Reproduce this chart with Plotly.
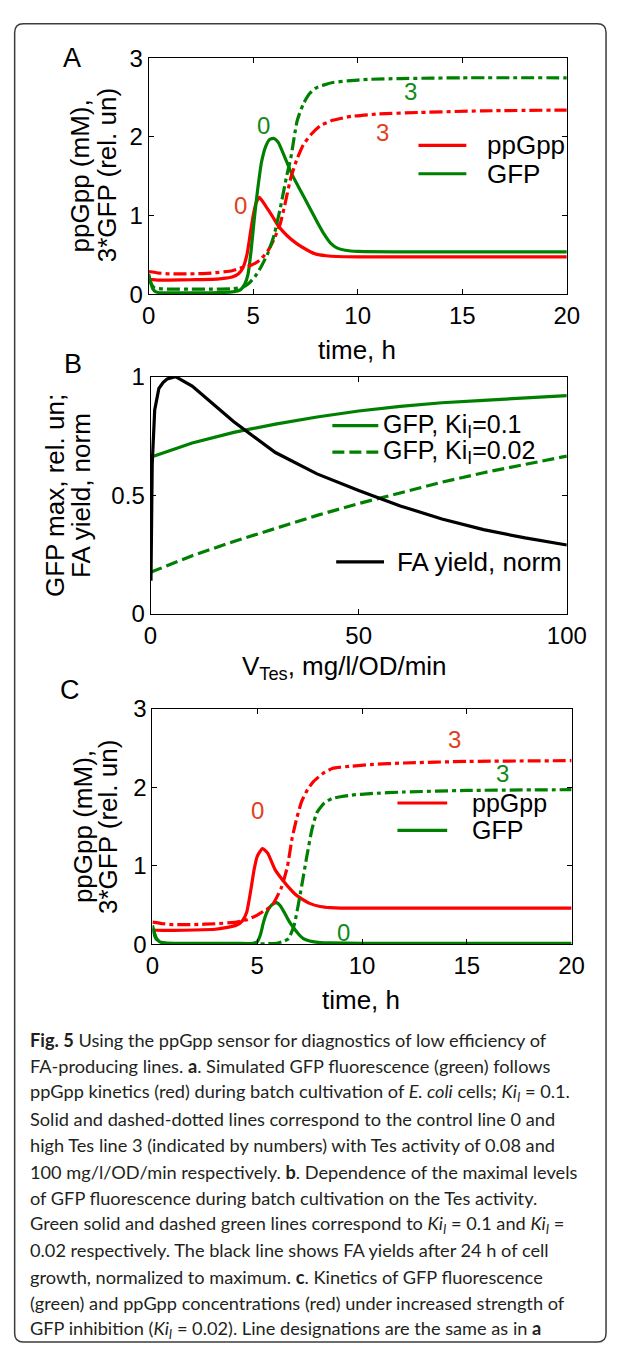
import plotly.graph_objects as go

W, H = 627, 1358

# ---------------- DATA ----------------
# Panel A (Ki_I = 0.1): time (h) vs ppGpp (mM) / 3*GFP (rel. un)
a_red0_t = [0, 0.5, 1, 2, 3, 3.5, 4, 4.3, 4.5, 4.7, 4.85, 5.0, 5.15, 5.3, 5.6, 5.9, 6.2, 6.6, 7.1, 7.6, 8.0, 8.5, 9, 10, 12, 15, 20]
a_red0_v = [0.19, 0.18, 0.18, 0.185, 0.19, 0.2, 0.22, 0.26, 0.33, 0.5, 0.75, 1.0, 1.17, 1.23, 1.12, 1.0, 0.87, 0.75, 0.64, 0.56, 0.51, 0.49, 0.48, 0.475, 0.475, 0.475, 0.475]

a_grn0_t = [0, 0.1, 0.2, 0.35, 0.5, 1, 2, 3, 4, 4.4, 4.6, 4.75, 4.9, 5.05, 5.2, 5.4, 5.6, 5.8, 6.0, 6.2, 6.5, 6.86, 7.3, 7.7, 8.1, 8.4, 8.7, 9.0, 9.4, 10, 12, 15, 20]
a_grn0_v = [0.26, 0.15, 0.07, 0.03, 0.02, 0.02, 0.02, 0.02, 0.03, 0.06, 0.13, 0.25, 0.55, 0.95, 1.3, 1.68, 1.88, 1.97, 1.98, 1.93, 1.75, 1.52, 1.3, 1.1, 0.9, 0.76, 0.65, 0.59, 0.56, 0.545, 0.54, 0.54, 0.54]

a_red3_t = [0, 0.5, 1, 2, 3, 4, 4.35, 4.9, 5.3, 5.7, 6.0, 6.3, 6.55, 6.8, 7.1, 7.4, 7.8, 8.2, 8.8, 9.7, 11, 13, 16, 20]
a_red3_v = [0.29, 0.27, 0.26, 0.26, 0.27, 0.3, 0.33, 0.37, 0.43, 0.55, 0.7, 0.9, 1.18, 1.48, 1.72, 1.9, 2.04, 2.14, 2.21, 2.26, 2.29, 2.31, 2.33, 2.34]

a_grn3_t = [0, 0.15, 0.3, 0.6, 1, 2, 3, 4, 4.5, 4.8, 5.1, 5.4, 5.7, 6.0, 6.3, 6.6, 6.8, 7.1, 7.4, 7.7, 8.0, 8.4, 8.8, 9.5, 10.5, 12, 15, 20]
a_grn3_v = [0.22, 0.12, 0.08, 0.07, 0.065, 0.065, 0.065, 0.07, 0.09, 0.14, 0.23, 0.36, 0.52, 0.75, 1.1, 1.5, 1.73, 2.2, 2.42, 2.55, 2.62, 2.66, 2.69, 2.71, 2.73, 2.74, 2.75, 2.75]

# Panel B: V_Tes (mg/l/OD/min) vs GFP max / FA yield
b_gfp_x = [0, 10, 20, 30, 40, 50, 60, 70, 80, 90, 100]
b_gfp01_v = [0.66, 0.72, 0.765, 0.80, 0.83, 0.855, 0.875, 0.89, 0.90, 0.91, 0.92]
b_gfp002_v = [0.175, 0.245, 0.305, 0.36, 0.415, 0.465, 0.51, 0.555, 0.595, 0.63, 0.665]
b_fa_x = [0.1, 0.4, 1, 2, 3, 4, 6, 10, 20, 30, 40, 50, 60, 70, 80, 90, 100]
b_fa_v = [0.14, 0.63, 0.86, 0.95, 0.975, 0.99, 1.0, 0.96, 0.81, 0.68, 0.59, 0.52, 0.455, 0.4, 0.355, 0.32, 0.29]

# Panel C (Ki_I = 0.02)
c_red0_t = [0, 0.5, 1, 2, 3, 3.5, 4, 4.3, 4.5, 4.7, 4.85, 5.0, 5.25, 5.5, 5.85, 6.2, 6.45, 6.8, 7.05, 7.5, 8.0, 8.5, 9, 10, 15, 20]
c_red0_v = [0.18, 0.175, 0.175, 0.18, 0.19, 0.21, 0.24, 0.3, 0.41, 0.7, 0.95, 1.12, 1.22, 1.16, 0.95, 0.82, 0.74, 0.64, 0.59, 0.52, 0.48, 0.465, 0.46, 0.46, 0.46, 0.46]

c_grn0_t = [0, 0.1, 0.2, 0.35, 0.5, 1, 2, 3, 4, 4.8, 5.0, 5.15, 5.3, 5.45, 5.62, 5.8, 5.92, 6.1, 6.3, 6.5, 6.76, 7.0, 7.2, 7.5, 8.0, 8.5, 10, 15, 20]
c_grn0_v = [0.24, 0.14, 0.07, 0.03, 0.02, 0.01, 0.01, 0.01, 0.01, 0.01, 0.03, 0.12, 0.28, 0.4, 0.48, 0.52, 0.53, 0.49, 0.4, 0.3, 0.2, 0.12, 0.07, 0.04, 0.02, 0.015, 0.01, 0.01, 0.01]

c_red3_t = [0, 0.5, 1, 2, 3, 4, 4.5, 4.93, 5.3, 5.7, 6.15, 6.44, 6.67, 6.9, 7.12, 7.4, 7.67, 8.1, 8.58, 9.5, 10.4, 12, 15, 20]
c_red3_v = [0.28, 0.26, 0.25, 0.25, 0.26, 0.28, 0.31, 0.36, 0.42, 0.49, 0.72, 0.99, 1.36, 1.62, 1.82, 1.97, 2.07, 2.17, 2.24, 2.27, 2.29, 2.31, 2.33, 2.34]

c_grn3_t = [0, 0.15, 0.3, 0.6, 1, 3, 5, 5.5, 6.0, 6.3, 6.5, 6.76, 7.06, 7.36, 7.6, 7.85, 8.2, 8.6, 9.5, 10.4, 12, 15, 20]
c_grn3_v = [0.2, 0.08, 0.03, 0.01, 0.005, 0.005, 0.005, 0.005, 0.015, 0.04, 0.07, 0.24, 0.65, 1.11, 1.45, 1.68, 1.8, 1.86, 1.9, 1.92, 1.94, 1.96, 1.97]

time_ticks = [0, 5, 10, 15, 20]
conc_ticks = [0, 1, 2, 3]
vtes_ticks = [0, 50, 100]
b_yticks = [0, 0.5, 1]
b_yticklabels = ["0", "0.5", "1"]

caption_lines = [
    "<b>Fig. 5</b> Using the ppGpp sensor for diagnostics of low efficiency of",
    "FA-producing lines. <b>a</b>. Simulated GFP fluorescence (green) follows",
    "ppGpp kinetics (red) during batch cultivation of <i>E. coli</i> cells; <i>Ki<sub>I</sub></i> = 0.1.",
    "Solid and dashed-dotted lines correspond to the control line 0 and",
    "high Tes line 3 (indicated by numbers) with Tes activity of 0.08 and",
    "100 mg/l/OD/min respectively. <b>b</b>. Dependence of the maximal levels",
    "of GFP fluorescence during batch cultivation on the Tes activity.",
    "Green solid and dashed green lines correspond to <i>Ki<sub>I</sub></i> = 0.1 and <i>Ki<sub>I</sub></i> =",
    "0.02 respectively. The black line shows FA yields after 24 h of cell",
    "growth, normalized to maximum. <b>c</b>. Kinetics of GFP fluorescence",
    "(green) and ppGpp concentrations (red) under increased strength of",
    "GFP inhibition (<i>Ki<sub>I</sub></i> = 0.02). Line designations are the same as in <b>a</b>",
]

# ---------------- STYLE ----------------
RED = "#ff0000"
GREEN = "#008000"
BLACK = "#000000"
LBL_RED = "#e2401c"
LBL_GRN = "#12891a"
DASHDOT = "13px,4px,4px,4px"
DASH = "12px,5px"
LW = 3.2
AXFONT = "Liberation Sans, Arial, sans-serif"


def fx(px):
    return px / W


def fy(py):
    return 1 - py / H


fig = go.Figure()


def add_line(x, y, color, dash, xa, ya, shape="spline"):
    fig.add_trace(go.Scatter(
        x=x, y=y, mode="lines", xaxis=xa, yaxis=ya, showlegend=False,
        line=dict(color=color, width=LW, dash=dash, shape=shape,
                  smoothing=0.5 if shape == "spline" else None),
        hoverinfo="skip"))


# Panel A
add_line(a_red0_t, a_red0_v, RED, "solid", "x", "y")
add_line(a_grn0_t, a_grn0_v, GREEN, "solid", "x", "y")
add_line(a_red3_t, a_red3_v, RED, DASHDOT, "x", "y")
add_line(a_grn3_t, a_grn3_v, GREEN, DASHDOT, "x", "y")
# Panel B
add_line(b_gfp_x, b_gfp01_v, GREEN, "solid", "x2", "y2", "linear")
add_line(b_gfp_x, b_gfp002_v, GREEN, DASH, "x2", "y2", "linear")
add_line(b_fa_x, b_fa_v, BLACK, "solid", "x2", "y2", "linear")
# Panel C
add_line(c_red0_t, c_red0_v, RED, "solid", "x3", "y3")
add_line(c_grn0_t, c_grn0_v, GREEN, "solid", "x3", "y3")
add_line(c_red3_t, c_red3_v, RED, DASHDOT, "x3", "y3")
add_line(c_grn3_t, c_grn3_v, GREEN, DASHDOT, "x3", "y3")

axis_common = dict(
    showgrid=False, zeroline=False, showline=True, linecolor="black", linewidth=1,
    mirror="allticks", ticks="inside", ticklen=5, tickcolor="black", tickwidth=1,
    tickfont=dict(family=AXFONT, size=24, color="black"),
)

# pixel boxes of the three plot areas
boxA = (148, 585, 45, 286)
boxB = (150, 585, 370, 612)
boxC = (152, 590, 709, 949)


def dom(box):
    l, r, t, b = box
    return [fx(l), fx(r)], [fy(b), fy(t)]


dxA, dyA = dom(boxA)
dxB, dyB = dom(boxB)
dxC, dyC = dom(boxC)

fig.update_layout(
    width=W, height=H, autosize=False,
    margin=dict(l=0, r=0, t=0, b=0),
    paper_bgcolor="white", plot_bgcolor="white",
    showlegend=False,
    xaxis=dict(domain=dxA, range=[0, 20], tickvals=time_ticks, anchor="y", **axis_common),
    yaxis=dict(domain=dyA, range=[0, 3], tickvals=conc_ticks, anchor="x", **axis_common),
    xaxis2=dict(domain=dxB, range=[0, 100], tickvals=vtes_ticks, anchor="y2", **axis_common),
    yaxis2=dict(domain=dyB, range=[0, 1], tickvals=b_yticks, ticktext=b_yticklabels, anchor="x2", **axis_common),
    xaxis3=dict(domain=dxC, range=[0, 20], tickvals=time_ticks, anchor="y3", **axis_common),
    yaxis3=dict(domain=dyC, range=[0, 3], tickvals=conc_ticks, anchor="x3", **axis_common),
)

ann = []
shapes = []


def text(px, py, s, size=26, color="black", xanchor="center", yanchor="middle", angle=0, family=AXFONT):
    ann.append(dict(x=fx(px), y=fy(py), xref="paper", yref="paper", text=s, showarrow=False,
                    xanchor=xanchor, yanchor=yanchor, textangle=angle,
                    font=dict(family=family, size=size, color=color)))


def data_text(xa, ya, x, y, s, color):
    ann.append(dict(x=x, y=y, xref=xa, yref=ya, text=s, showarrow=False,
                    xanchor="center", yanchor="middle",
                    font=dict(family=AXFONT, size=24, color=color)))


def legline(x0, x1, py, color, dash="solid"):
    shapes.append(dict(type="line", xref="paper", yref="paper",
                       x0=fx(x0), x1=fx(x1), y0=fy(py), y1=fy(py),
                       line=dict(color=color, width=LW, dash=dash)))


# panel letters
text(68, 45, "A", size=27)
text(69, 357, "B", size=27)
text(66, 690, "C", size=27)

# axis titles
text(366, 343, "time, h")
text(76, 165, "ppGpp (mM),", angle=-90)
text(104, 165, "3*GFP (rel. un)", angle=-90)

text(353, 667, "V<sub>Tes</sub>, mg/l/OD/min")
text(50, 491, "GFP max, rel. un;", angle=-90)
text(78, 491, "FA yield, norm", angle=-90)

text(370, 1006, "time, h")
text(79, 829, "ppGpp (mM),", angle=-90)
text(105, 829, "3*GFP (rel. un)", angle=-90)

# line numbers
data_text("x", "y", 5.49, 2.15, "0", LBL_GRN)
data_text("x", "y", 4.39, 1.13, "0", LBL_RED)
data_text("x", "y", 12.54, 2.58, "3", LBL_GRN)
data_text("x", "y", 11.17, 2.06, "3", LBL_RED)

data_text("x3", "y3", 14.43, 2.61, "3", LBL_RED)
data_text("x3", "y3", 16.7, 2.18, "3", LBL_GRN)
data_text("x3", "y3", 5.02, 1.71, "0", LBL_RED)
data_text("x3", "y3", 9.13, 0.15, "0", LBL_GRN)

# legends (manual, MATLAB style, no box)
legline(430, 480, 134, RED)
text(500, 134, "ppGpp", xanchor="left")
legline(430, 480, 163, GREEN)
text(500, 163, "GFP", xanchor="left")

legline(340, 388, 420, GREEN)
text(391, 420, "GFP, Ki<sub>I</sub>=0.1", size=25, xanchor="left")
legline(340, 388, 447, GREEN, DASH)
text(391, 447, "GFP, Ki<sub>I</sub>=0.02", size=25, xanchor="left")
legline(344, 394, 559, BLACK)
text(405, 559, "FA yield, norm", xanchor="left")

legline(408, 460, 805, RED)
text(484, 805, "ppGpp", size=25, xanchor="left")
legline(408, 460, 833, GREEN)
text(484, 833, "GFP", size=25, xanchor="left")

# caption
for i, line in enumerate(caption_lines):
    text(22, 1047 + i * 26.8, line, size=18.2, color="#231f20", xanchor="left",
         family="Lato, Open Sans, sans-serif")

# rounded outer frame
L, R, T, B, rr = 8, 626, 10, 1355, 9
path = (f"M {fx(L)},{fy(T + rr)} Q {fx(L)},{fy(T)} {fx(L + rr)},{fy(T)} "
        f"L {fx(R - rr)},{fy(T)} Q {fx(R)},{fy(T)} {fx(R)},{fy(T + rr)} "
        f"L {fx(R)},{fy(B - rr)} Q {fx(R)},{fy(B)} {fx(R - rr)},{fy(B)} "
        f"L {fx(L + rr)},{fy(B)} Q {fx(L)},{fy(B)} {fx(L)},{fy(B - rr)} Z")
shapes.append(dict(type="path", xref="paper", yref="paper", path=path,
                   line=dict(color="#3c3c3c", width=1.5), layer="below"))

fig.update_layout(annotations=ann, shapes=shapes)
fig.write_html("out.html")
